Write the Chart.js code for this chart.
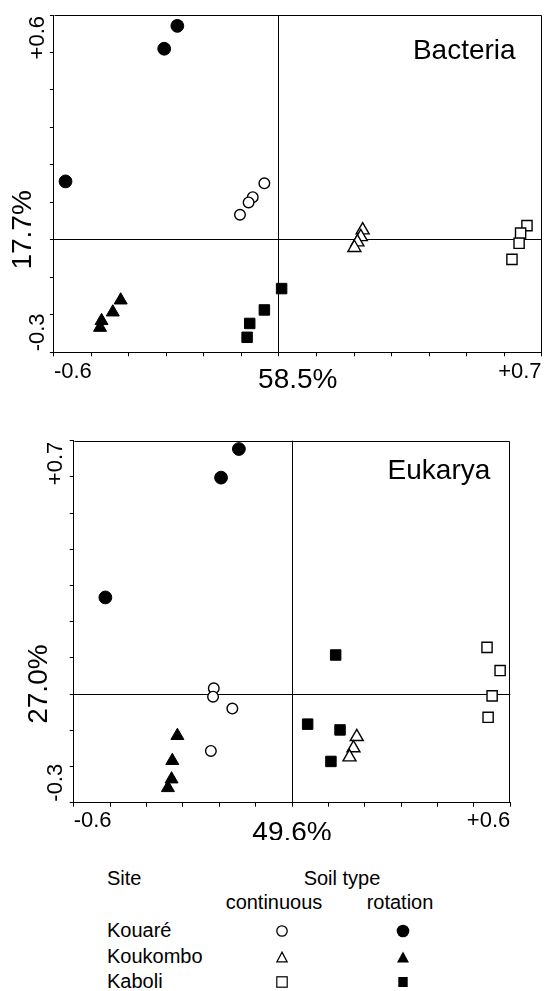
<!DOCTYPE html>
<html>
<head>
<meta charset="utf-8">
<script src="https://cdn.jsdelivr.net/npm/chart.js@4.4.1/dist/chart.umd.min.js"></script>
<style>
    body {
        margin: 0;
        width: 544px;
        height: 991px;
        position: relative;
        overflow: hidden;
        background: #fff;
        color: #000;
        font-family: "Liberation Sans", Arial, sans-serif;
    }
    .panel { position: absolute; left: 0; width: 544px; }
    #panelBac { top: 0; height: 400px; }
    #panelEuk { top: 420px; height: 420px; }
    .lg { position: absolute; font-size: 20px; line-height: 24px; white-space: nowrap; }
    .mid { transform: translateX(-50%); }
    .sym { position: absolute; width: 16px; height: 16px; }
</style>
</head>
<body>
<div class="panel" id="panelBac"><canvas id="bacteria"></canvas></div>
<div class="panel" id="panelEuk"><canvas id="eukarya"></canvas></div>
<div id="legend"></div>

<script>
// sites and soil types
const sites = ['Kouaré', 'Koukombo', 'Kaboli'];
const soilTypes = ['continuous', 'rotation'];

// Bacteria panel (axis 1: 58.5%, axis 2: 17.7%)
const bacXRange = [-0.6, 0.7];
const bacYRange = [-0.3, 0.6];
const bacXTitle = '58.5%';
const bacYTitle = '17.7%';
const bacKouareCont = [{x: -0.039, y: 0.151}, {x: -0.070, y: 0.114}, {x: -0.081, y: 0.100}, {x: -0.104, y: 0.067}];
const bacKouareRot = [{x: -0.271, y: 0.571}, {x: -0.306, y: 0.510}, {x: -0.569, y: 0.156}];
const bacKoukomboCont = [{x: 0.223, y: 0.026}, {x: 0.218, y: 0.008}, {x: 0.209, y: -0.006}, {x: 0.201, y: -0.021}];
const bacKoukomboRot = [{x: -0.422, y: -0.161}, {x: -0.443, y: -0.193}, {x: -0.473, y: -0.216}, {x: -0.477, y: -0.234}];
const bacKaboliCont = [{x: 0.661, y: 0.038}, {x: 0.644, y: 0.018}, {x: 0.640, y: -0.009}, {x: 0.621, y: -0.052}];
const bacKaboliRot = [{x: 0.007, y: -0.130}, {x: -0.039, y: -0.187}, {x: -0.078, y: -0.223}, {x: -0.085, y: -0.260}];

// Eukarya panel (axis 1: 49.6%, axis 2: 27.0%)
const eukXRange = [-0.6, 0.6];
const eukYRange = [-0.3, 0.7];
const eukXTitle = '49.6%';
const eukYTitle = '27.0%';
const eukKouareCont = [{x: -0.215, y: 0.016}, {x: -0.217, y: -0.007}, {x: -0.164, y: -0.040}, {x: -0.223, y: -0.157}];
const eukKouareRot = [{x: -0.146, y: 0.677}, {x: -0.195, y: 0.598}, {x: -0.513, y: 0.267}];
const eukKoukomboCont = [{x: 0.178, y: -0.118}, {x: 0.169, y: -0.149}, {x: 0.158, y: -0.174}];
const eukKoukomboRot = [{x: -0.315, y: -0.115}, {x: -0.329, y: -0.184}, {x: -0.331, y: -0.235}, {x: -0.341, y: -0.259}];
const eukKaboliCont = [{x: 0.536, y: 0.129}, {x: 0.572, y: 0.065}, {x: 0.550, y: -0.005}, {x: 0.539, y: -0.064}];
const eukKaboliRot = [{x: 0.043, y: -0.083}, {x: 0.120, y: 0.108}, {x: 0.132, y: -0.099}, {x: 0.107, y: -0.186}];

const FONT = '"Liberation Sans", Arial, sans-serif';

// marker look per site / soil type
const markerStyle = {
    'Kouaré':   {pointStyle: 'circle',   radius: {continuous: 5.3, rotation: 6.4}},
    'Koukombo': {pointStyle: 'triangle', radius: {continuous: 7.5, rotation: 7.5}},
    'Kaboli':   {pointStyle: 'rect',     radius: {continuous: 7.2, rotation: 7.4}}
};

const fmt = v => (v > 0 ? '+' : '') + v.toFixed(1);

const buildDatasets = (seriesBySite) => {
    const sets = [];
    sites.forEach((site, i) => {
        soilTypes.forEach((soil, j) => {
            const filled = soil === 'rotation';
            sets.push({
                label: site + ' ' + soil,
                data: seriesBySite[i][j],
                showLine: false,
                clip: false,
                pointStyle: markerStyle[site].pointStyle,
                pointRadius: markerStyle[site].radius[soil],
                backgroundColor: filled ? '#000' : '#fff',
                borderColor: '#000',
                borderWidth: filled ? 1 : 1.4
            });
        });
    });
    return sets;
};

// frame, rotated y end labels, axis titles and panel name
const frameAndText = {
    id: 'frameAndText',
    afterDraw(chart, args, opts) {
        const {ctx, chartArea: a, scales: {x, y}} = chart;
        ctx.save();
        ctx.strokeStyle = '#000';
        ctx.lineWidth = 1;
        ctx.beginPath();
        ctx.moveTo(Math.round(a.left) + 0.5, Math.round(a.top) + 0.5);
        ctx.lineTo(Math.round(a.right) - 0.5, Math.round(a.top) + 0.5);
        ctx.lineTo(Math.round(a.right) - 0.5, Math.round(a.bottom));
        ctx.stroke();

        ctx.fillStyle = '#000';

        // y end labels, rotated
        ctx.font = '22px ' + FONT;
        ctx.textBaseline = 'middle';
        ctx.save();
        ctx.translate(a.left - opts.yLabelGap, y.getPixelForValue(y.max) + 1);
        ctx.rotate(-Math.PI / 2);
        ctx.textAlign = 'right';
        ctx.fillText(fmt(y.max), 0, 0);
        ctx.restore();
        ctx.save();
        ctx.translate(a.left - opts.yLabelGap, y.getPixelForValue(y.min) - 1);
        ctx.rotate(-Math.PI / 2);
        ctx.textAlign = 'left';
        ctx.fillText(fmt(y.min), 0, 0);
        ctx.restore();

        // axis titles
        ctx.font = '28px ' + FONT;
        ctx.textAlign = 'center';
        ctx.fillText(opts.xTitle, (a.left + a.right) / 2, a.bottom + opts.xTitleGap);
        ctx.save();
        ctx.translate(a.left - opts.yTitleGap, y.getPixelForValue(0) - 10);
        ctx.rotate(-Math.PI / 2);
        ctx.fillText(opts.yTitle, 0, 0);
        ctx.restore();

        // panel name
        ctx.textAlign = 'right';
        ctx.fillText(opts.name, a.right - opts.nameInset, a.top + opts.nameDrop);
        ctx.restore();
    }
};

const zeroLine = (context) => {
    if (context.tick && Math.abs(context.tick.value) < 1e-9) {
        return '#000';
    }
    return 'rgba(0,0,0,0)';
};

const createOrdination = (canvasId, cfg) => {
    return new Chart(
        document.getElementById(canvasId),
        {
            type: 'scatter',
            data: {
                datasets: buildDatasets(cfg.series)
            },
            options: {
                responsive: true,
                maintainAspectRatio: false,
                animation: false,
                layout: {
                    autoPadding: false,
                    padding: cfg.padding
                },
                plugins: {
                    legend: { display: false },
                    tooltip: { enabled: false },
                    frameAndText: cfg.text
                },
                scales: {
                    x: {
                        type: 'linear',
                        position: 'bottom',
                        min: cfg.xRange[0],
                        max: cfg.xRange[1],
                        border: { display: true, color: '#000', width: 1 },
                        grid: {
                            color: zeroLine,
                            tickColor: '#000',
                            tickLength: 4,
                            lineWidth: 1
                        },
                        ticks: {
                            stepSize: 0.1,
                            autoSkip: false,
                            minRotation: 0,
                            maxRotation: 0,
                            align: 'inner',
                            padding: cfg.xTickPadding,
                            color: '#000',
                            font: { family: FONT, size: 22 },
                            callback: function(value, index, ticks) {
                                if (index === 0 || index === ticks.length - 1) {
                                    return fmt(value);
                                }
                                return '';
                            }
                        },
                        afterFit(scale) {
                            scale.height = cfg.xAxisHeight;
                        }
                    },
                    y: {
                        type: 'linear',
                        position: 'left',
                        min: cfg.yRange[0],
                        max: cfg.yRange[1],
                        border: { display: true, color: '#000', width: 1 },
                        grid: {
                            color: zeroLine,
                            tickColor: '#000',
                            tickLength: 4,
                            lineWidth: 1
                        },
                        ticks: {
                            stepSize: 0.1,
                            autoSkip: false,
                            display: false
                        },
                        afterFit(scale) {
                            scale.width = cfg.yAxisWidth;
                        }
                    }
                }
            },
            plugins: [frameAndText]
        }
    );
};

createOrdination('bacteria', {
    series: [
        [bacKouareCont, bacKouareRot],
        [bacKoukomboCont, bacKoukomboRot],
        [bacKaboliCont, bacKaboliRot]
    ],
    xRange: bacXRange,
    yRange: bacYRange,
    padding: { left: 0, right: 2.4, top: 15, bottom: 0 },
    xAxisHeight: 47.7,
    yAxisWidth: 53.9,
    xTickPadding: 2,
    text: { name: 'Bacteria', xTitle: bacXTitle, yTitle: bacYTitle, yLabelGap: 16, yTitleGap: 31, xTitleGap: 28, nameInset: 26, nameDrop: 36 }
});

createOrdination('eukarya', {
    series: [
        [eukKouareCont, eukKouareRot],
        [eukKoukomboCont, eukKoukomboRot],
        [eukKaboliCont, eukKaboliRot]
    ],
    xRange: eukXRange,
    yRange: eukYRange,
    padding: { left: 0, right: 33.7, top: 20.7, bottom: 0 },
    xAxisHeight: 37.3,
    yAxisWidth: 73.7,
    xTickPadding: 1,
    text: { name: 'Eukarya', xTitle: eukXTitle, yTitle: eukYTitle, yLabelGap: 18, yTitleGap: 34, xTitleGap: 31, nameInset: 20, nameDrop: 31 }
});

// key below the plots
const legendSymbol = (site, soil) => {
    const filled = soil === 'rotation';
    const fill = filled ? '#000' : '#fff';
    const sw = filled ? 0 : 1.3;
    let shape;
    if (site === 'Kouaré') {
        shape = '<circle cx="8" cy="8" r="' + (filled ? 6.3 : 5.2) + '" fill="' + fill + '" stroke="#000" stroke-width="' + sw + '"/>';
    } else if (site === 'Koukombo') {
        shape = filled
            ? '<polygon points="8,2.5 2,13.5 14,13.5" fill="#000"/>'
            : '<polygon points="8,3.2 2.9,12.8 13.1,12.8" fill="#fff" stroke="#000" stroke-width="1.3"/>';
    } else {
        shape = filled
            ? '<rect x="3.3" y="3" width="9.4" height="10" fill="#000"/>'
            : '<rect x="2.8" y="2.8" width="10.4" height="10.4" fill="#fff" stroke="#000" stroke-width="1.2"/>';
    }
    return '<svg width="16" height="16" xmlns="http://www.w3.org/2000/svg">' + shape + '</svg>';
};

const legendEl = document.getElementById('legend');
const addText = (text, left, top, centered) => {
    const d = document.createElement('div');
    d.className = 'lg' + (centered ? ' mid' : '');
    d.style.left = left + 'px';
    d.style.top = top + 'px';
    d.textContent = text;
    legendEl.appendChild(d);
};

addText('Site', 107, 866, false);
addText('Soil type', 342, 866, true);
const soilCols = [282, 403];
const soilHeadX = [274, 400];
soilTypes.forEach((soil, j) => addText(soil, soilHeadX[j], 890, true));
const rowTops = [918, 944, 969];
const rowMid = [930.7, 956.7, 981.7];
sites.forEach((site, i) => {
    addText(site, 107, rowTops[i], false);
    soilTypes.forEach((soil, j) => {
        const s = document.createElement('div');
        s.className = 'sym';
        s.style.left = (soilCols[j] - 8) + 'px';
        s.style.top = (rowMid[i] - 8) + 'px';
        s.innerHTML = legendSymbol(site, soil);
        legendEl.appendChild(s);
    });
});
</script>
</body>
</html>
